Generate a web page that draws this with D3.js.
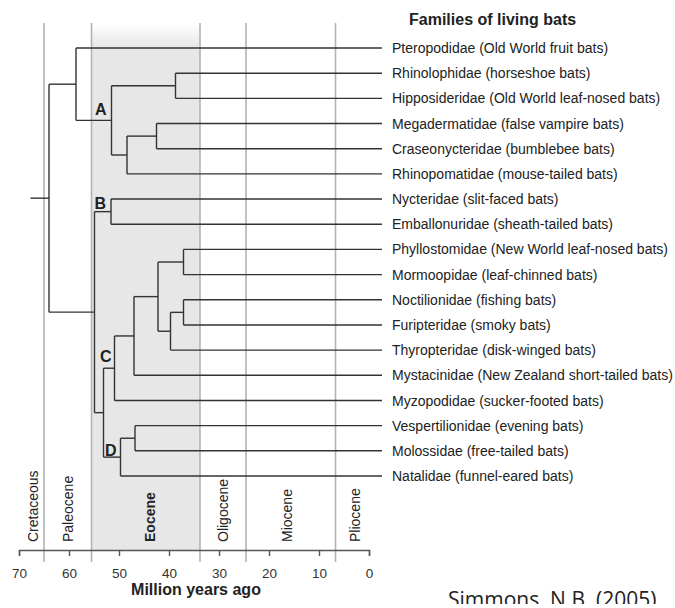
<!DOCTYPE html>
<html>
<head>
<meta charset="utf-8">
<script src="https://cdn.jsdelivr.net/npm/d3@7"></script>
<style>
  body { margin: 0; background: #fff; }
  svg { display: block; font-family: "Liberation Sans", Arial, sans-serif; }
</style>
</head>
<body>
<svg id="chart" width="675" height="608"></svg>
<script>
// Tip families, top to bottom
const families = [
  "Pteropodidae (Old World fruit bats)",
  "Rhinolophidae (horseshoe bats)",
  "Hipposideridae (Old World leaf-nosed bats)",
  "Megadermatidae (false vampire bats)",
  "Craseonycteridae (bumblebee bats)",
  "Rhinopomatidae (mouse-tailed bats)",
  "Nycteridae (slit-faced bats)",
  "Emballonuridae (sheath-tailed bats)",
  "Phyllostomidae (New World leaf-nosed bats)",
  "Mormoopidae (leaf-chinned bats)",
  "Noctilionidae (fishing bats)",
  "Furipteridae (smoky bats)",
  "Thyropteridae (disk-winged bats)",
  "Mystacinidae (New Zealand short-tailed bats)",
  "Myzopodidae (sucker-footed bats)",
  "Vespertilionidae (evening bats)",
  "Molossidae (free-tailed bats)",
  "Natalidae (funnel-eared bats)",
];
const tipParents = ["n1", "n3", "n3", "n5", "n5", "n4", "B", "B", "n9", "n9",
  "n11", "n11", "n10", "n7", "C", "n12", "n12", "D"];

// Internal nodes: id, parent, divergence age (Ma)
const nodeIds     = ["root", "n1", "A", "n3", "n4", "n5", "n2", "B", "n6", "C", "n7", "n8", "n9", "n10", "n11", "D", "n12"];
const nodeParents = ["", "root", "n1", "A", "A", "n4", "root", "n2", "n2", "n6", "C", "n7", "n8", "n8", "n10", "n6", "D"];
const nodeAges    = [64, 58.6, 51.5, 38.7, 48.4, 42.5, 54.9, 51.6, 53.1, 50.9, 47, 42.2, 37.1, 39.7, 37.1, 49.7, 46.8];
const rootStemAge = 67.7;
const cladeLabels = ["A", "B", "C", "D"];

// Geological epochs
const epochNames = ["Cretaceous", "Paleocene", "Eocene", "Oligocene", "Miocene", "Pliocene"];
const epochBounds = [65, 55.5, 33.8, 24.6, 6.7];
const epochLabelAges = [67.2, 60.2, 43.8, 29.1, 16.3, 2.8];
const ageTicks = [70, 60, 50, 40, 30, 20, 10, 0];

const svg = d3.select("#chart");
const ink = "#333";

const x = d3.scaleLinear().domain([70, 0]).range([19, 369]);
const y = d3.scalePoint().domain(families).range([48, 476]);
const axisY = 550;
const gridTop = 23;
const tipEnd = x(0) + 13;

// Eocene shading with a soft fade at the top
const defs = svg.append("defs");
const grad = defs.append("linearGradient")
  .attr("id", "fade").attr("x1", 0).attr("x2", 0).attr("y1", 0).attr("y2", 1);
grad.append("stop").attr("offset", "0").attr("stop-color", "#fff");
grad.append("stop").attr("offset", "0.045").attr("stop-color", "#e7e7e7");
grad.append("stop").attr("offset", "1").attr("stop-color", "#e7e7e7");

svg.append("rect")
  .attr("x", x(epochBounds[1]))
  .attr("y", gridTop)
  .attr("width", x(epochBounds[2]) - x(epochBounds[1]))
  .attr("height", axisY - gridTop)
  .attr("fill", "url(#fade)");

// Epoch boundaries
svg.selectAll(".epoch-line")
  .data(epochBounds)
  .enter()
  .append("line")
  .attr("x1", (d) => x(d)).attr("x2", (d) => x(d))
  .attr("y1", gridTop).attr("y2", 562)
  .attr("stroke", "#b3b3b3")
  .attr("stroke-width", 1.6);

// Epoch names, rotated
svg.selectAll(".epoch-label")
  .data(epochNames)
  .enter()
  .append("text")
  .attr("transform", (d, i) => `translate(${x(epochLabelAges[i])},542) rotate(-90)`)
  .attr("dy", "0.35em")
  .attr("font-size", "14px")
  .attr("font-weight", (d) => (d === "Eocene" ? "bold" : "normal"))
  .attr("fill", "#222")
  .text((d) => d);

// Build tree
const rows = nodeIds.map((id, i) => ({ id, parent: nodeParents[i] || null, age: nodeAges[i] }))
  .concat(families.map((f, i) => ({ id: f, parent: tipParents[i], age: 0, tip: true })));
const root = d3.stratify().id((d) => d.id).parentId((d) => d.parent)(rows);

root.eachAfter((n) => {
  if (!n.children) {
    n.py = y(n.data.id);
  } else {
    const ext = d3.extent(n.children, (c) => c.py);
    n.py = (ext[0] + ext[1]) / 2;
  }
  n.px = n.data.tip ? tipEnd : x(n.data.age);
});

const tree = svg.append("g")
  .attr("stroke", ink)
  .attr("stroke-width", 1.4)
  .attr("fill", "none");

// root stem
tree.append("line")
  .attr("x1", x(rootStemAge)).attr("x2", root.px)
  .attr("y1", root.py).attr("y2", root.py);

root.descendants().forEach((n) => {
  if (n.children) {
    const ext = d3.extent(n.children, (c) => c.py);
    tree.append("line")
      .attr("x1", n.px).attr("x2", n.px)
      .attr("y1", ext[0]).attr("y2", ext[1]);
    n.children.forEach((c) => {
      tree.append("line")
        .attr("x1", n.px).attr("x2", c.px)
        .attr("y1", c.py).attr("y2", c.py);
    });
  }
});

// Clade letters
const labelShift = { A: [-5, -5], B: [-5, -3], C: [-3, -6], D: [-4, -1] };
cladeLabels.forEach((id) => {
  const n = root.find((d) => d.data.id === id);
  svg.append("text")
    .attr("x", n.px + labelShift[id][0])
    .attr("y", n.py + labelShift[id][1])
    .attr("text-anchor", "end")
    .attr("font-size", "16px")
    .attr("font-weight", "bold")
    .attr("fill", "#222")
    .text(id);
});

// Family names
svg.selectAll(".family")
  .data(families)
  .enter()
  .append("text")
  .attr("x", tipEnd + 10)
  .attr("y", (d) => y(d))
  .attr("dy", "0.36em")
  .attr("font-size", "14px")
  .attr("fill", "#222")
  .text((d) => d);

svg.append("text")
  .attr("x", 409)
  .attr("y", 25)
  .attr("font-size", "16px")
  .attr("font-weight", "bold")
  .attr("fill", "#222")
  .text("Families of living bats");

// Time axis
const axis = svg.append("g")
  .attr("transform", `translate(0,${axisY})`)
  .call(d3.axisBottom(x).tickValues(ageTicks).tickSize(6).tickPadding(12));
axis.selectAll("path, line").attr("stroke", "#555").attr("stroke-width", 1.4);
axis.selectAll("text")
  .attr("font-size", "13.5px")
  .attr("font-family", "\"Liberation Sans\", Arial, sans-serif")
  .attr("fill", "#333");

svg.append("text")
  .attr("x", 196)
  .attr("y", 595)
  .attr("text-anchor", "middle")
  .attr("font-size", "16px")
  .attr("font-weight", "bold")
  .attr("fill", "#222")
  .text("Million years ago");

// Citation
svg.append("text")
  .attr("x", 448)
  .attr("y", 607)
  .attr("font-family", "\"Open Sans\", sans-serif")
  .attr("font-size", "21px")
  .attr("fill", "#222")
  .text("Simmons, N.B. (2005)");
svg.append("rect")
  .attr("x", 430).attr("y", 604).attr("width", 245).attr("height", 4)
  .attr("fill", "#fff");
</script>
</body>
</html>
